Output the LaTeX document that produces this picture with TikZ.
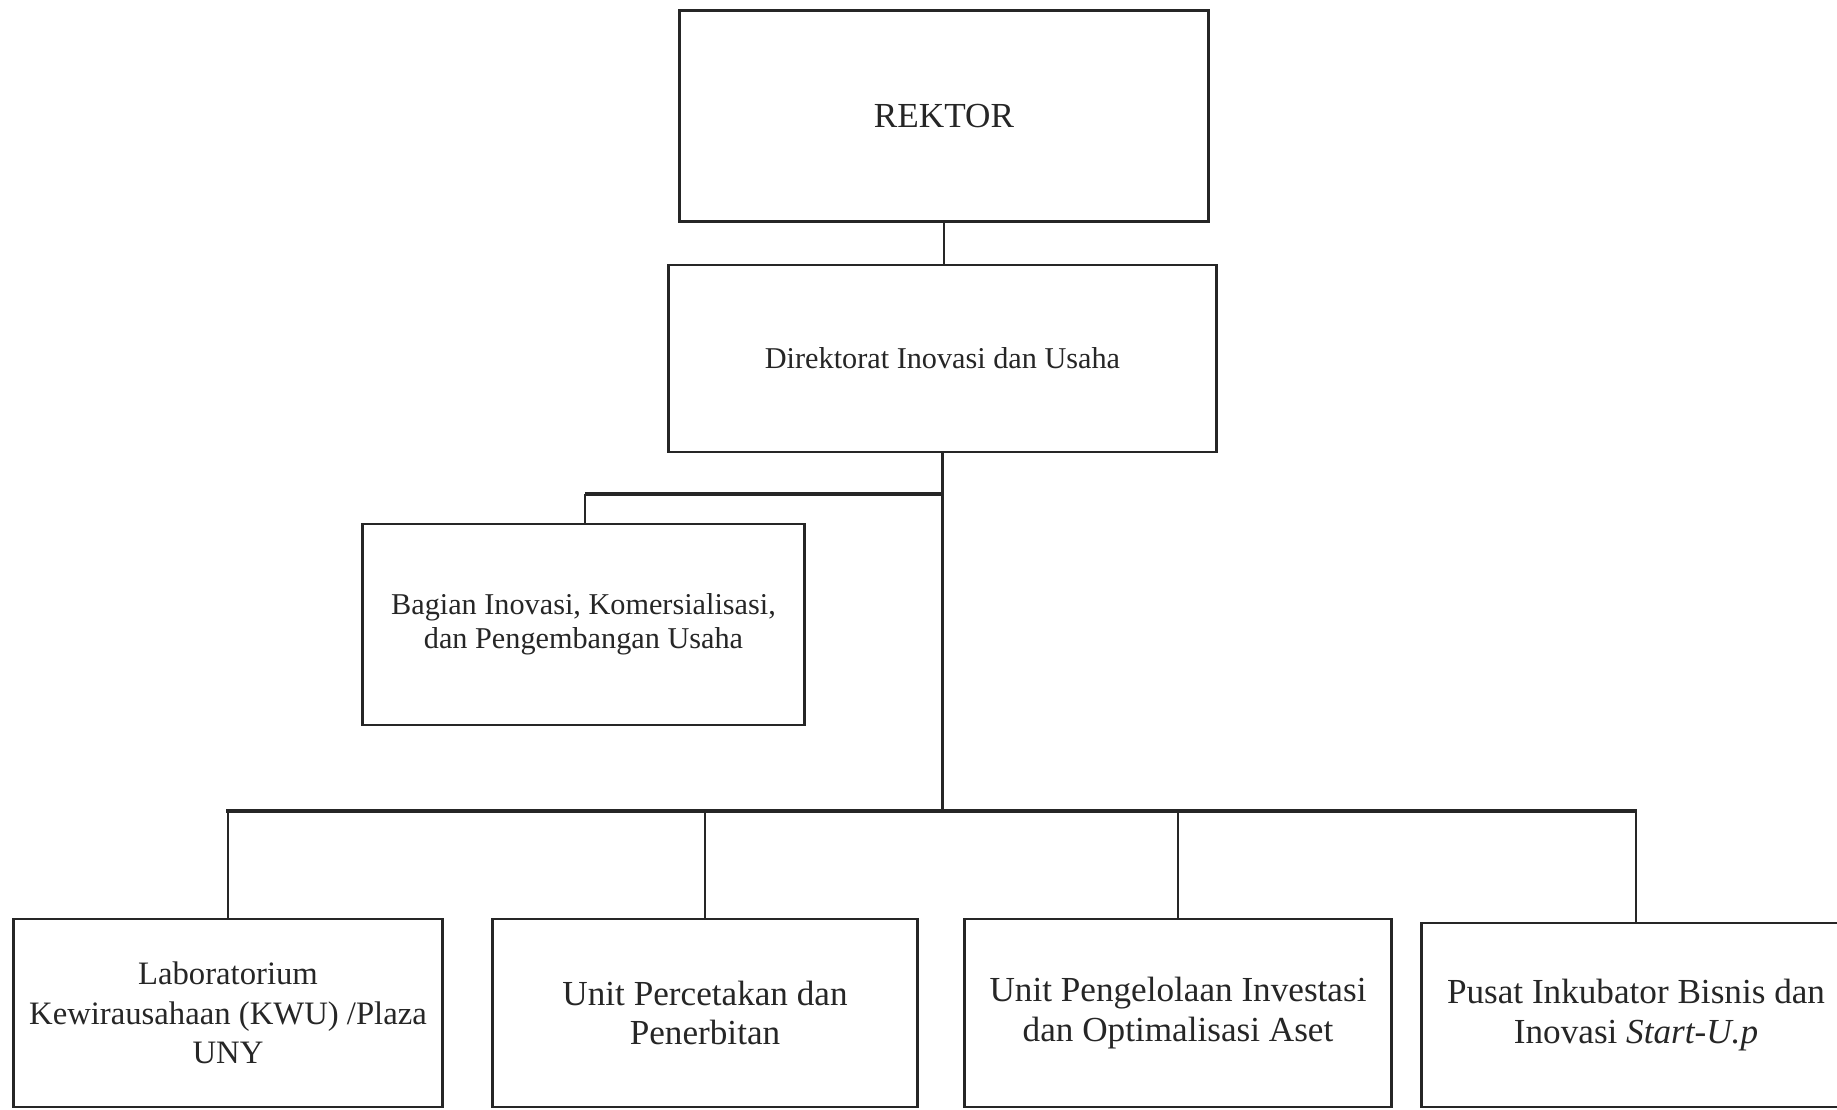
\documentclass[tikz,border=0pt]{standalone}
\usepackage{fontspec}
\setmainfont{Liberation Serif}
\begin{document}
\begin{tikzpicture}[x=0.01cm,y=-0.01cm,
  box/.style={draw=black!85, line width=0.8pt, rectangle, align=center, inner sep=0pt, text=black!85},
  conn/.style={draw=black!85, line width=0.6pt},
  busline/.style={draw=black!85, line width=1.4pt},
  bigtxt/.style={font=\fontsize{10}{11.2}\selectfont},
  labtxt/.style={font=\fontsize{9.3}{11.2}\selectfont},
  smalltxt/.style={font=\fontsize{8.6}{9.8}\selectfont}]
\fill[white] (0,0) rectangle (1837,1109);
\useasboundingbox (0,0) rectangle (1837,1109);
\node[box, bigtxt, minimum width=5.28cm, minimum height=2.11cm] (rektor) at (944,116) {REKTOR};
\node[box, smalltxt, minimum width=5.47cm, minimum height=1.87cm] (direk) at (942.5,358.5) {Direktorat Inovasi dan Usaha};
\node[box, smalltxt, minimum width=4.41cm, minimum height=2.01cm] (bagian) at (583.5,624.5) {Bagian Inovasi, Komersialisasi,\\dan Pengembangan Usaha};
\node[box, labtxt, minimum width=4.28cm, minimum height=1.88cm] (b1) at (228,1013) {Laboratorium\\Kewirausahaan (KWU) /Plaza\\UNY};
\node[box, bigtxt, minimum width=4.24cm, minimum height=1.88cm] (b2) at (705,1013) {Unit Percetakan dan\\Penerbitan};
\node[box, bigtxt, minimum width=4.27cm, minimum height=1.88cm] (b3) at (1178,1013) {Unit Pengelolaan Investasi\\dan Optimalisasi Aset};
\node[box, bigtxt, minimum width=4.28cm, minimum height=1.84cm] (b4) at (1636,1015) {Pusat Inkubator Bisnis dan\\Inovasi \textit{Start-U.p}};
\coordinate (busL) at (226,811);
\coordinate (busR) at (1637,811);
\coordinate (brL) at (585,494);
\draw[conn] (rektor.south) -- (rektor.south |- direk.north);
\draw[conn] (direk.south) -- (direk.south |- busL);
\draw[busline] (busL) -- (busR);
\draw[busline] (direk.south |- brL) -- (brL);
\draw[conn] (brL) -- (brL |- bagian.north);
\draw[conn] (b1.north |- busL) -- (b1.north);
\draw[conn] (b2.north |- busL) -- (b2.north);
\draw[conn] (b3.north |- busL) -- (b3.north);
\draw[conn] (b4.north |- busL) -- (b4.north);
\end{tikzpicture}
\end{document}
